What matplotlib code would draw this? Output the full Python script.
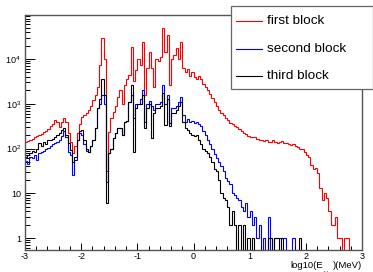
import numpy as np
import matplotlib
matplotlib.use("Agg")
import matplotlib.pyplot as plt
from matplotlib.ticker import MultipleLocator, LogLocator, FixedLocator, FixedFormatter, NullFormatter
from matplotlib.patches import Rectangle
from matplotlib.lines import Line2D

plt.rcParams['font.family'] = ['Liberation Sans', 'DejaVu Sans']
plt.rcParams['mathtext.fontset'] = 'custom'
plt.rcParams['mathtext.rm'] = 'Liberation Sans'
plt.rcParams['mathtext.it'] = 'Liberation Sans:italic'
plt.rcParams['mathtext.bf'] = 'Liberation Sans:bold'

# histogram binning: 150 bins from -3 to 3
bin_lo, bin_hi, n_bins = -3.0, 3.0, 150

first_block = [
    141, 148, 158, 166, 178, 191, 200, 214, 229, 251,
    269, 316, 355, 437, 398, 302, 398, 479, 398, 224,
    141, 79, 112, 224, 355, 501, 562, 631, 708, 891,
    1202, 1585, 2399, 7413, 29512, 10000, 32, 234, 479, 661,
    891, 1413, 1995, 1000, 2630, 3548, 4467, 18621, 3162, 5754,
    10000, 7413, 23988, 1585, 6310, 14454, 6310, 2399, 10000, 8913,
    11220, 50119, 14454, 34674, 2630, 10000, 12589, 17783, 10000, 23988,
    6310, 5248, 6026, 4169, 5012, 3981, 3548, 4169, 3548, 2818,
    2399, 2042, 1660, 1318, 1072, 871, 741, 631, 550, 479,
    427, 380, 355, 316, 295, 269, 251, 224, 209, 191,
    182, 178, 182, 166, 158, 158, 145, 151, 141, 141,
    151, 141, 132, 138, 145, 132, 135, 126, 120, 126,
    112, 110, 100, 95, 85, 71, 63, 42, 35, 37,
    28, 13, 7, 10, 8, 4, 2, 2, 3, 1,
    1, 0, 1, 1, 0, 0, 0, 0, 0, 0,
]

second_block = [
    52, 45, 63, 60, 71, 56, 79, 83, 89, 100,
    105, 112, 126, 132, 141, 158, 191, 240, 178, 83,
    71, 26, 56, 155, 224, 200, 126, 89, 83, 112,
    155, 288, 794, 1000, 1585, 1000, 18, 79, 100, 174,
    224, 288, 288, 200, 398, 417, 1096, 1585, 479, 1000,
    1000, 1259, 1995, 398, 1000, 1148, 891, 708, 1000, 1000,
    1122, 2630, 1000, 1585, 372, 794, 794, 891, 1122, 1413,
    562, 398, 447, 398, 417, 380, 398, 355, 316, 240,
    200, 158, 126, 95, 76, 60, 50, 40, 32, 22,
    19, 16, 10, 9, 8, 7, 5, 4, 6, 3,
    4, 2, 3, 1, 2, 0, 1, 0, 3, 0,
    0, 1, 1, 1, 1, 1, 0, 0, 0, 1,
    0, 0, 0, 0, 0, 0, 0, 0, 0, 0,
    0, 0, 0, 0, 0, 0, 0, 0, 0, 0,
    0, 0, 0, 0, 0, 0, 0, 0, 0, 0,
]

third_block = [
    63, 71, 79, 89, 83, 100, 132, 112, 141, 126,
    151, 158, 166, 182, 200, 224, 263, 288, 200, 132,
    93, 50, 63, 158, 251, 263, 158, 100, 83, 112,
    155, 288, 794, 1259, 3548, 1585, 6, 79, 100, 174,
    224, 288, 288, 200, 398, 417, 1096, 2630, 83, 794,
    1000, 1000, 1585, 288, 794, 1000, 174, 631, 794, 794,
    891, 1738, 339, 1259, 316, 631, 631, 708, 891, 1122,
    398, 282, 263, 224, 200, 191, 200, 158, 126, 100,
    89, 79, 63, 50, 35, 32, 20, 10, 8, 7,
    5, 2, 4, 2, 0, 2, 0, 2, 0, 1,
    0, 1, 0, 0, 0, 0, 0, 0, 1, 1,
    0, 1, 1, 0, 1, 0, 0, 0, 0, 0,
    0, 0, 1, 0, 0, 0, 0, 0, 0, 0,
    0, 0, 0, 0, 0, 0, 0, 0, 0, 0,
    0, 0, 0, 0, 0, 0, 0, 0, 0, 0,
]

labels = ["first block", "second block", "third block"]
colors = ["#ff0000", "#0000ff", "#000000"]

x_ticks = [-3, -2, -1, 0, 1, 2, 3]
x_tick_labels = ["-3", "-2", "-1", "0", "1", "2", "3"]
y_ticks = [1, 10, 100, 1000, 10000]
y_tick_labels = ["1", "10", "$10^{2}$", "$10^{3}$", "$10^{4}$"]

W, H = 373, 272
fig = plt.figure(figsize=(W / 100, H / 100), dpi=100)
ax = fig.add_axes([25 / W, 1 - 250 / H, (362 - 25) / W, (250 - 15) / H])

edges = np.linspace(bin_lo, bin_hi, n_bins + 1)
series = [first_block, second_block, third_block]
for vals, col in zip(series, colors):
    ax.stairs(np.asarray(vals, dtype=float), edges, baseline=None,
              color=col, linewidth=0.8)

ax.set_yscale('log', nonpositive='clip')
ax.set_xlim(-3, 3)
ax.set_ylim(10 ** (-12 / 44.75), 10 ** (223 / 44.75))

ax.xaxis.set_major_locator(FixedLocator(x_ticks))
ax.xaxis.set_major_formatter(FixedFormatter(x_tick_labels))
ax.xaxis.set_minor_locator(MultipleLocator(0.2))
ax.yaxis.set_major_locator(FixedLocator(y_ticks))
ax.yaxis.set_major_formatter(FixedFormatter(y_tick_labels))
ax.yaxis.set_minor_locator(LogLocator(base=10, subs=np.arange(2, 10)))
ax.yaxis.set_minor_formatter(NullFormatter())

ax.tick_params(axis='x', which='major', direction='in', length=5.2, width=0.7,
               labelsize=6.5, pad=1.6, top=False)
ax.tick_params(axis='x', which='minor', direction='in', length=2.6, width=0.7, top=False)
ax.tick_params(axis='y', which='major', direction='in', length=7.5, width=0.7,
               labelsize=6.5, pad=3, right=False)
ax.tick_params(axis='y', which='minor', direction='in', length=3.8, width=0.7, right=False)
for sp in ax.spines.values():
    sp.set_color('#555555')
    sp.set_linewidth(1.0)

# x-axis title at bottom right; subscript sits low and is cut by the figure edge
renderer = fig.canvas.get_renderer()
base_y = 1 - 268 / H
t3 = fig.text(362.5 / W, base_y, ')(MeV)', ha='right', va='baseline', fontsize=6.8)
bb3 = t3.get_window_extent(renderer)
t2 = fig.text((bb3.x0 - 0.3) / W, 1 - 276.5 / H, 'kin', ha='right', va='baseline', fontsize=5.2)
bb2 = t2.get_window_extent(renderer)
fig.text((bb2.x0 - 0.3) / W, base_y, 'log10(E', ha='right', va='baseline', fontsize=6.8)

# legend
lx0, lx1, ly0, ly1 = 231, 372.5, 6, 89
fig.add_artist(Rectangle((lx0 / W, 1 - ly1 / H), (lx1 - lx0) / W, (ly1 - ly0) / H,
                         transform=fig.transFigure, facecolor='white',
                         edgecolor='#666666', linewidth=0.9, zorder=5))
rows_y = [21, 49, 76]
for lab, col, ry in zip(labels, colors, rows_y):
    fig.add_artist(Line2D([236 / W, 262 / W], [1 - ry / H, 1 - ry / H],
                          transform=fig.transFigure, color=col, linewidth=0.8, zorder=6))
    fig.text(267 / W, 1 - ry / H, lab, ha='left', va='center', fontsize=9.7, zorder=6)

fig.savefig('out.png', dpi=100)
